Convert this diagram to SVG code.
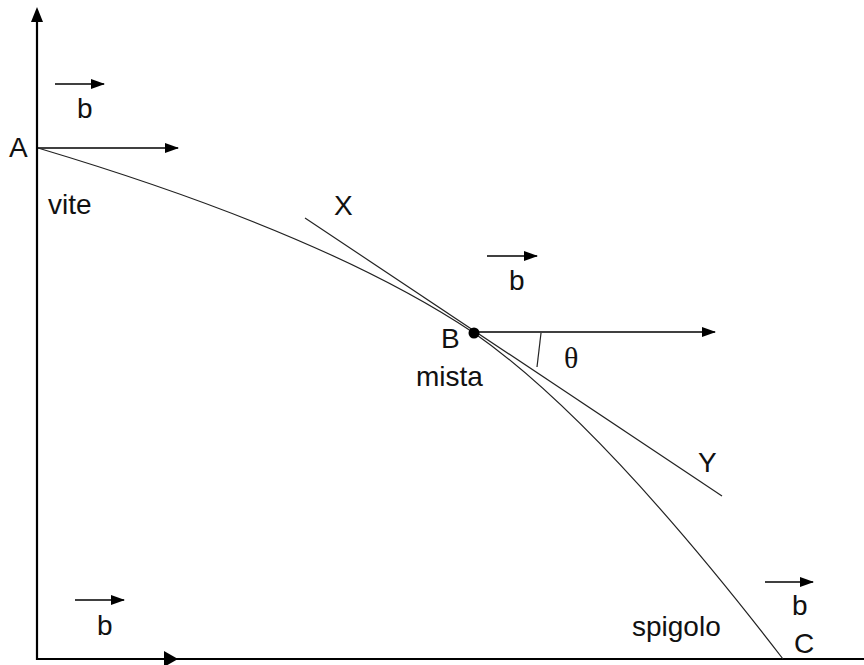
<svg xmlns="http://www.w3.org/2000/svg" width="864" height="665" viewBox="0 0 864 665">
<style>
.t{font-family:"Liberation Sans",Arial,sans-serif;font-size:28px;fill:#111}
.s{font-family:"Liberation Serif","Times New Roman",serif;font-size:30px;fill:#111}
.ax{stroke:#000;stroke-width:2.2;fill:none}
.ar{stroke:#000;stroke-width:1.5;fill:none;marker-end:url(#ah)}
.c{stroke:#222;stroke-width:1.2;fill:none}
</style>
<defs>
<marker id="ah" markerUnits="userSpaceOnUse" markerWidth="14" markerHeight="10" refX="13" refY="5" orient="auto">
<path d="M0,0 L14,5 L0,10 Z" fill="#000"/>
</marker>
</defs>
<g id="connectors">
<line class="ax" x1="37" y1="18" x2="37" y2="660"/>
<path d="M31,22 L37,7 L43,22 Z" fill="#000"/>
<line class="ax" x1="36" y1="659" x2="864" y2="659"/>
<path d="M164,651 L178,659 L164,667 Z" fill="#000"/>
<line class="ar" x1="38" y1="148" x2="178" y2="148"/>
<line class="ar" x1="55" y1="84" x2="104" y2="84"/>
<line class="ar" x1="487" y1="256" x2="537" y2="256"/>
<line class="ar" x1="765" y1="582" x2="813" y2="582"/>
<line class="ar" x1="75" y1="600" x2="124" y2="600"/>
<line class="ar" x1="478" y1="332" x2="715" y2="332"/>
<path class="c" d="M38,148 Q326,234 474,333 Q599,420 783,659"/>
<line class="c" x1="305" y1="218" x2="722" y2="496"/>
<line class="c" x1="541" y1="333" x2="537" y2="367"/>
</g>
<g id="B"><circle cx="474" cy="333" r="5.5" fill="#000"/></g>
<g id="labels">
<text class="t" x="9" y="157">A</text>
<text class="t" x="77" y="118">b</text>
<text class="t" x="48" y="214">vite</text>
<text class="t" x="334" y="215">X</text>
<text class="t" x="509" y="290">b</text>
<text class="t" x="441" y="348">B</text>
<text class="t" x="416" y="386">mista</text>
<text class="s" x="564" y="368">θ</text>
<text class="t" x="698" y="472">Y</text>
<text class="t" x="632" y="636">spigolo</text>
<text class="t" x="792" y="615">b</text>
<text class="t" x="794" y="653">C</text>
<text class="t" x="97" y="635">b</text>
</g>
</svg>
